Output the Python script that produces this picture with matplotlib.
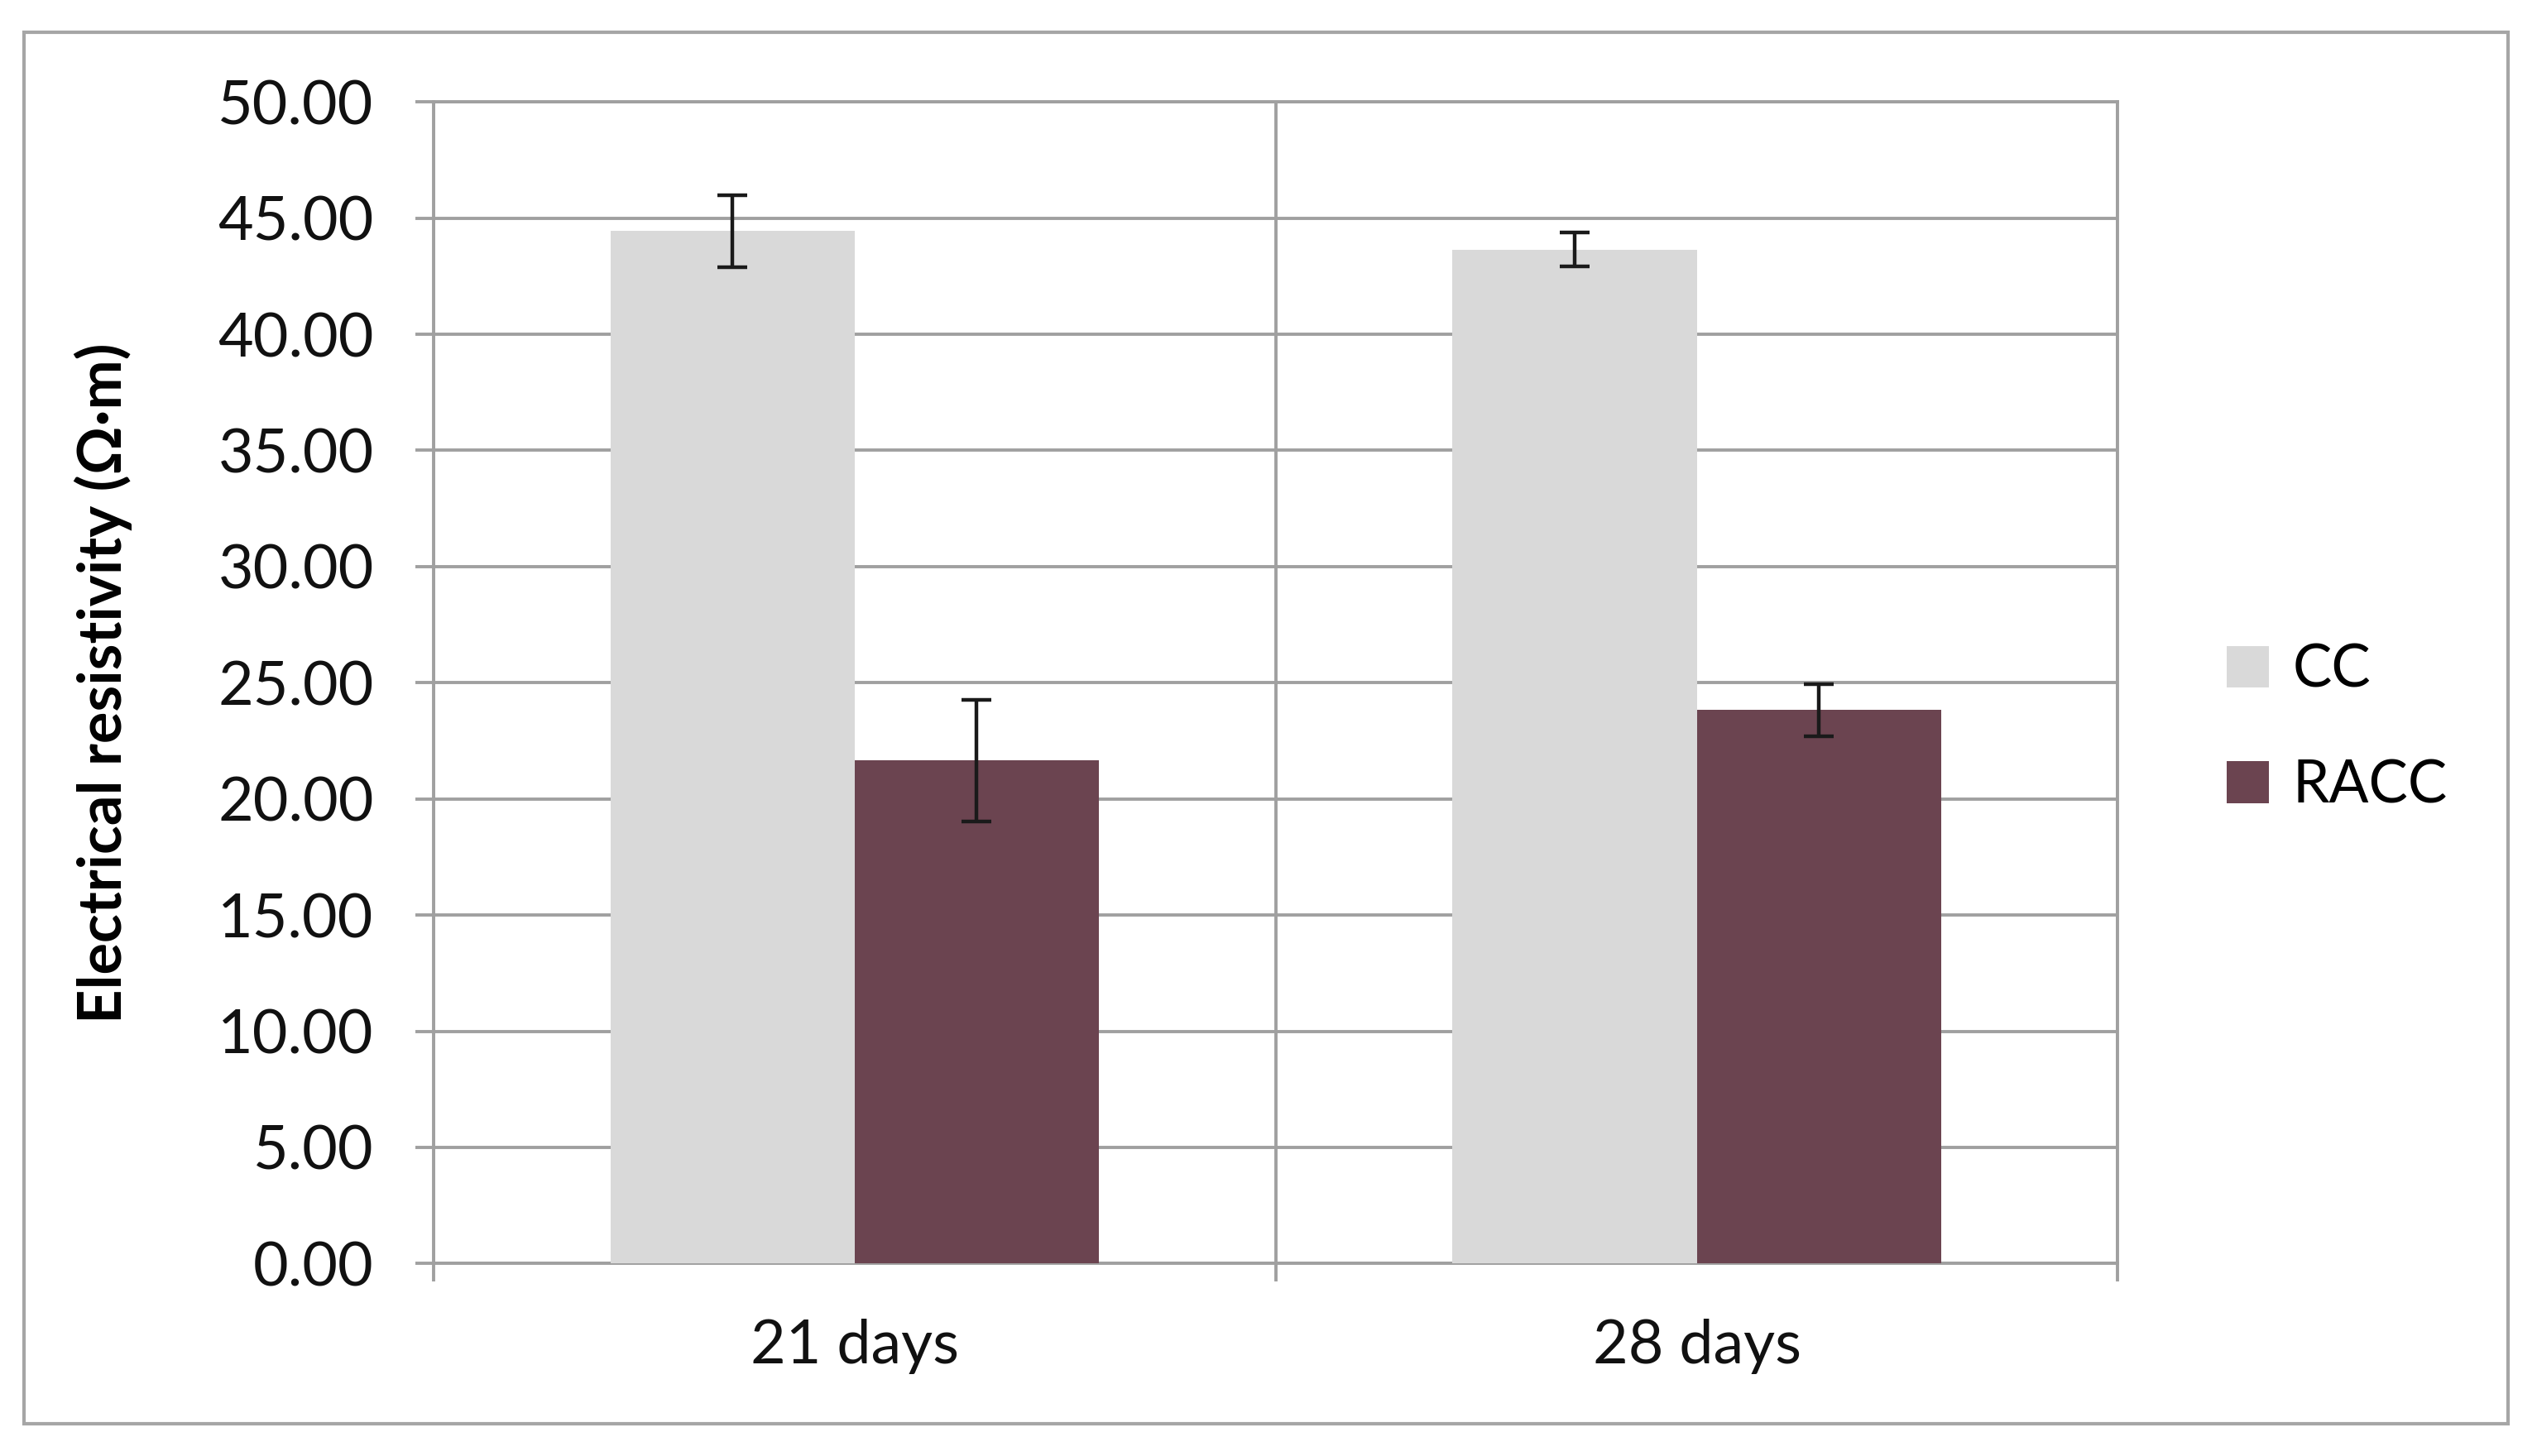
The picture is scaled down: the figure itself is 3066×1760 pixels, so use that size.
import matplotlib
matplotlib.use('Agg')
import matplotlib.pyplot as plt
import numpy as np
from matplotlib.patches import Rectangle

categories = ['21 days', '28 days']
series = ['CC', 'RACC']
cc_values = [44.45, 43.65]
cc_errors = [1.55, 0.74]
racc_values = [21.65, 23.82]
racc_errors = [2.62, 1.13]
yticks = [0, 5, 10, 15, 20, 25, 30, 35, 40, 45, 50]
ylabels = ['%.2f' % v for v in yticks]

plt.rcParams['font.family'] = ['Lato', 'DejaVu Sans']

fig = plt.figure(figsize=(15.33, 8.8), dpi=200)
ax = fig.add_axes([0.1709, 0.1322, 0.6639, 0.7978])

grid_col = '#A0A0A0'
x = np.arange(len(categories))
w = 0.29
ekw = dict(ecolor='#1a1a1a', elinewidth=1.6, capthick=1.6, zorder=4)
ax.bar(x - w / 2, cc_values, w, color='#D9D9D9', yerr=cc_errors, capsize=6.5,
       error_kw=ekw, label=series[0], zorder=3)
ax.bar(x + w / 2, racc_values, w, color='#6B4450', yerr=racc_errors, capsize=6.5,
       error_kw=ekw, label=series[1], zorder=3)

ax.set_xlim(-0.5, 1.5)
ax.set_ylim(0, 50)
ax.set_yticks(yticks)
ax.set_yticklabels(ylabels, fontsize=26.5, color='#111111')
ax.set_xticks([-0.5, 0.5, 1.5])
ax.set_xticklabels([])
ax.set_xticks(x, minor=True)
ax.set_xticklabels(categories, minor=True, fontsize=26.5, color='#111111')
ax.tick_params(axis='x', which='minor', length=0, pad=24)
ax.tick_params(axis='x', which='major', length=8, width=1.4, color=grid_col, direction='out')
ax.tick_params(axis='y', length=8, width=1.4, color=grid_col, pad=18)
ax.grid(True, which='major', color=grid_col, lw=1.4, zorder=0)
ax.set_axisbelow(True)
for s in ax.spines.values():
    s.set_color(grid_col)
    s.set_linewidth(1.4)

ax.set_ylabel('Electrical resistivity (Ω·m)', fontsize=26, fontweight='bold')
ax.yaxis.set_label_coords(-0.179, 0.5)

fig.legend(loc='center left', bbox_to_anchor=(0.857, 0.5), frameon=False,
           fontsize=25.5, handlelength=0.72, handleheight=0.72, labelspacing=1.05,
           handletextpad=0.4)

fig.patches.append(Rectangle((0.0096, 0.0222), 0.9789, 0.9556, transform=fig.transFigure,
                             fill=False, edgecolor='#A6A6A6', lw=1.5, zorder=0))

fig.savefig('out.png', dpi=200, facecolor='white')
